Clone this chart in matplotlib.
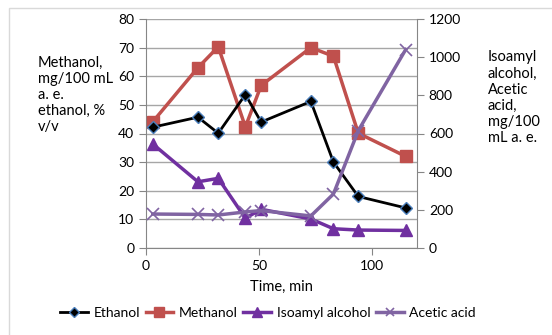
import matplotlib
matplotlib.use("Agg")
import matplotlib.pyplot as plt
from matplotlib.lines import Line2D
from matplotlib.patches import Rectangle

plt.rcParams["font.family"] = ["Lato", "DejaVu Sans"]
plt.rcParams["font.size"] = 10

time_min = [3, 23, 32, 44, 51, 73, 83, 94, 115]
ethanol = [42.2, 45.7, 40.1, 53.6, 44.0, 51.2, 30.0, 18.0, 14.0]
methanol = [44.1, 63.0, 70.3, 42.3, 56.8, 70.0, 67.0, 40.1, 32.0]
isoamyl = [545, 347, 365, 156, 203, 152, 101, 94, 92]
acetic = [178, 176, 173, 189, 196, 168, 283, 615, 1040]

colores = {
  "ethanol": "black",
  "ethanol_edge": "#4a7ebb",
  "methanol": "#c0504d",
  "isoamyl": "#7030a0",
  "acetic": "#8064a2",
  "grid": "#a6a6a6"}

fig = plt.figure(figsize=(5.52, 3.35), dpi=100)
fig.patches.append(Rectangle((9/552, -0.1), 1.2, 1 - 8/335 + 0.1, transform=fig.transFigure,
  fill=False, edgecolor="#d9d9d9", linewidth=1))
ax = fig.add_axes([146/552, 1 - 248/335, 271/552, 229/335])
ax2 = ax.twinx()

ax.plot(time_min, ethanol, color=colores["ethanol"], lw=2, marker="D", ms=6,
  mfc="black", mec=colores["ethanol_edge"], mew=1, zorder=4)
ax.plot(time_min, methanol, color=colores["methanol"], lw=2.5, marker="s", ms=9,
  mfc=colores["methanol"], mec=colores["methanol"], zorder=3)
ax2.plot(time_min, isoamyl, color=colores["isoamyl"], lw=2.5, marker="^", ms=9,
  mfc=colores["isoamyl"], mec=colores["isoamyl"])
ax2.plot(time_min, acetic, color=colores["acetic"], lw=2.5, marker="x", ms=8, mew=1.2)

ax.set_xlim(0, 120)
ax.set_ylim(0, 80)
ax2.set_ylim(0, 1200)
ax.set_xticks([0, 50, 100])
ax.set_yticks(range(0, 81, 10))
ax2.set_yticks(range(0, 1201, 200))
ax.yaxis.grid(True, color=colores["grid"], lw=1)
ax.set_axisbelow(True)

for a in (ax, ax2):
  a.spines["top"].set_visible(False)
  for s in ("left", "right", "bottom"):
    a.spines[s].set_color("#868686")
  a.tick_params(colors="#868686", labelcolor="black", length=5, labelsize=10)
ax.spines["right"].set_visible(False)
ax2.spines["left"].set_visible(False)
ax2.spines["bottom"].set_visible(False)

ax.set_xlabel("Time, min", fontsize=10.5, labelpad=6)

fig.text(38/552, 1 - 95/335, "Methanol,\nmg/100 mL\na. e.\nethanol, %\nv/v",
  ha="left", va="center", fontsize=10.5, linespacing=1.2)
fig.text(488/552, 1 - 98/335, "Isoamyl\nalcohol,\nAcetic\nacid,\nmg/100\nmL a. e.",
  ha="left", va="center", fontsize=10.5, linespacing=1.2)

handles = [
  Line2D([], [], color="black", lw=2, marker="D", ms=5, mfc="black", mec=colores["ethanol_edge"]),
  Line2D([], [], color=colores["methanol"], lw=2.5, marker="s", ms=7, mfc=colores["methanol"], mec=colores["methanol"]),
  Line2D([], [], color=colores["isoamyl"], lw=2.5, marker="^", ms=7, mfc=colores["isoamyl"], mec=colores["isoamyl"]),
  Line2D([], [], color=colores["acetic"], lw=2.5, marker="x", ms=6, mew=1.2)]
fig.legend(handles, ["Ethanol", "Methanol", "Isoamyl alcohol", "Acetic acid"],
  loc="center", bbox_to_anchor=(268/552, 1 - 313/335), ncol=4, frameon=False,
  fontsize=10, handlelength=2.0, handletextpad=0.4, columnspacing=0.4)

fig.savefig("out.png", dpi=100)
